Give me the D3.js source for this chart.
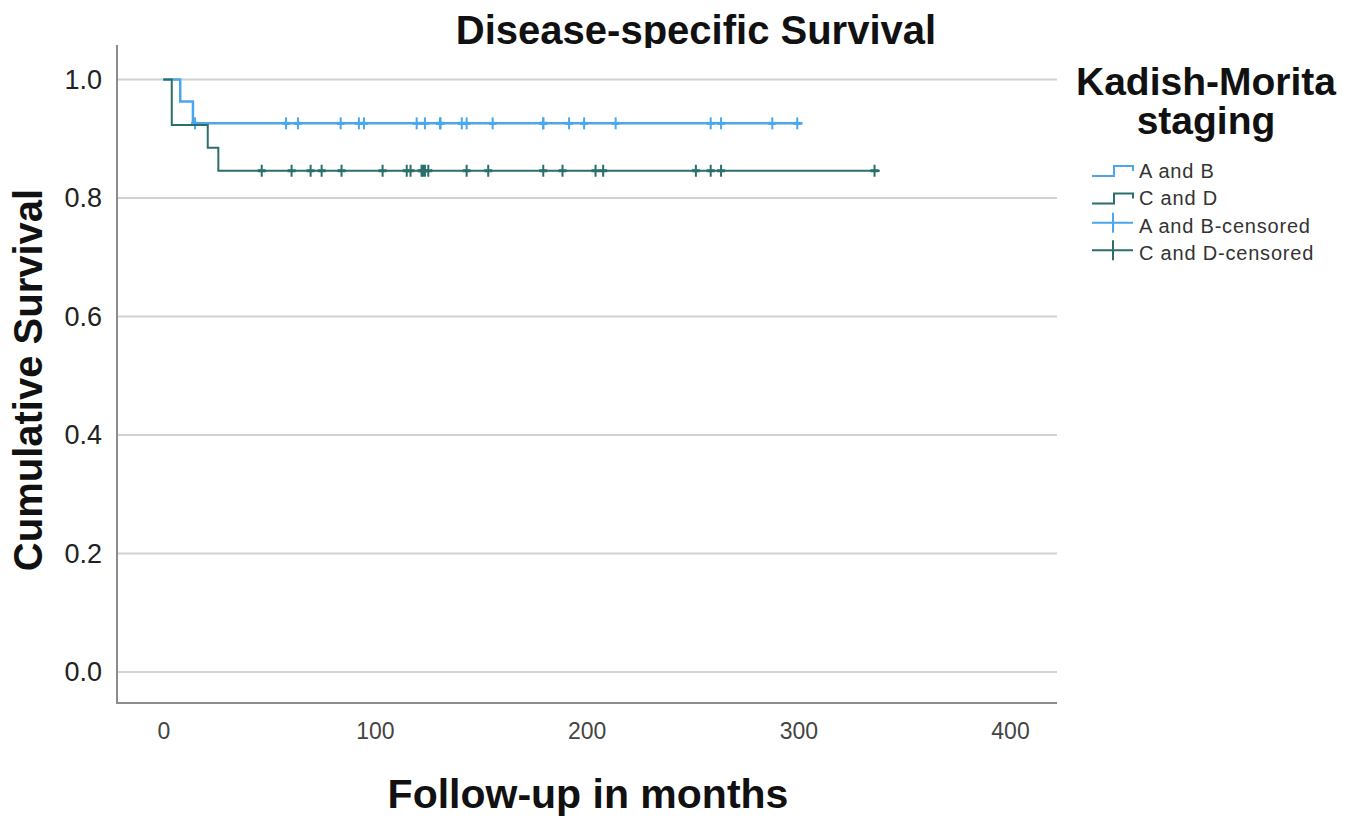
<!DOCTYPE html>
<html>
<head>
<meta charset="utf-8">
<script src="https://cdn.jsdelivr.net/npm/d3@7"></script>
<style>
  body { margin: 0; background: #fff; }
  text { font-family: "Liberation Sans", Arial, sans-serif; }
</style>
</head>
<body>
<div id="chart"></div>
<script>
const WIDTH = 1360;
const HEIGHT = 819;

// data
const xTicks = [0, 100, 200, 300, 400];
const yTicks = [0.0, 0.2, 0.4, 0.6, 0.8, 1.0];

const groups = ["A and B", "C and D"];
const abTimes = [0, 8, 14];
const abSurv = [1.0, 0.963, 0.926];
const abEnd = 302;
const abCensored = [15, 58, 63.6, 83.8, 92.4, 94.8, 119.7, 123.6, 130.7, 131, 141, 143.3,
                    155.6, 179.4, 179.6, 191.7, 198.8, 213.7, 258.6, 263.5, 287.7, 299.5];
const cdTimes = [0, 4, 21, 26];
const cdSurv = [1.0, 0.923, 0.885, 0.846];
const cdEnd = 338.5;
const cdCensored = [46.5, 60.6, 69.6, 74.8, 84.2, 103.6, 115, 116.8, 122, 122.7, 123.6, 125.2,
                    143.3, 153.5, 179.5, 188.6, 204.2, 207.8, 251.6, 258.6, 263.5, 336];

const COLORS = { "A and B": "#4aa7ec", "C and D": "#2a6f6b" };

const FRAME = { LEFT: 117, RIGHT: 1057, TOP: 45, BOTTOM: 703 };

var x = d3.scaleLinear([0, 400], [163.3, 1010]);
var y = d3.scaleLinear([0, 1], [672, 79.5]);

var svg = d3.select("div#chart").append("svg")
    .attr("width", WIDTH)
    .attr("height", HEIGHT);

// gridlines
svg.append("g").attr("class", "grid")
  .selectAll("line").data(yTicks).join("line")
    .attr("x1", FRAME.LEFT).attr("x2", FRAME.RIGHT)
    .attr("y1", d => y(d)).attr("y2", d => y(d))
    .attr("stroke", "#d2d2d2").attr("stroke-width", 2);

// axes frame lines
svg.append("line")
    .attr("x1", FRAME.LEFT).attr("x2", FRAME.LEFT)
    .attr("y1", FRAME.TOP).attr("y2", FRAME.BOTTOM + 1)
    .attr("stroke", "#8c8c8c").attr("stroke-width", 2);
svg.append("line")
    .attr("x1", FRAME.LEFT).attr("x2", FRAME.RIGHT)
    .attr("y1", FRAME.BOTTOM).attr("y2", FRAME.BOTTOM)
    .attr("stroke", "#8c8c8c").attr("stroke-width", 2);

// y tick labels via axis
svg.append("g")
    .attr("transform", `translate(${FRAME.LEFT},0)`)
    .call(d3.axisLeft(y).tickValues(yTicks).tickFormat(d3.format(".1f")).tickSize(0).tickPadding(15))
    .call(g => g.select(".domain").remove())
    .selectAll("text")
      .style("font-family", "Liberation Sans, Arial, sans-serif")
      .style("font-size", "27px")
      .attr("fill", "#222");

// x tick labels via axis
svg.append("g")
    .attr("transform", `translate(0,${FRAME.BOTTOM})`)
    .call(d3.axisBottom(x).tickValues(xTicks).tickFormat(d3.format("d")).tickSize(0).tickPadding(20))
    .call(g => g.select(".domain").remove())
    .selectAll("text")
      .style("font-family", "Liberation Sans Narrow, Arial Narrow, sans-serif")
      .style("font-size", "23px")
      .attr("fill", "#444");

// survival curves
const series = [
  { name: "A and B", times: abTimes, surv: abSurv, end: abEnd, censored: abCensored },
  { name: "C and D", times: cdTimes, surv: cdSurv, end: cdEnd, censored: cdCensored }
];

const survAt = (s, t) => {
  var v = s.surv[0];
  s.times.forEach((tt, i) => { if (tt <= t) v = s.surv[i]; });
  return v;
};

const stepLine = d3.line()
    .x(d => x(d[0]))
    .y(d => y(d[1]))
    .curve(d3.curveStepAfter);

var curves = svg.selectAll("g.curve").data(series).join("g")
    .attr("class", "curve")
    .attr("stroke", d => COLORS[d.name])
    .attr("fill", "none");

curves.append("path")
    .attr("stroke-width", d => d.name === "A and B" ? 2.5 : 2)
    .attr("d", d => {
      var pts = d.times.map((t, i) => [t, d.surv[i]]);
      pts.push([d.end, d.surv[d.surv.length - 1]]);
      return stepLine(pts);
    });

curves.selectAll("line.cens").data(d => d.censored.map(t => [t, survAt(d, t)])).join("line")
    .attr("class", "cens")
    .attr("stroke-width", 2)
    .attr("x1", d => x(d[0])).attr("x2", d => x(d[0]))
    .attr("y1", d => y(d[1]) - 6).attr("y2", d => y(d[1]) + 6);

curves.selectAll("line.arm").data(d => d.censored.map(t => [t, survAt(d, t)])).join("line")
    .attr("class", "arm")
    .attr("stroke-width", 3)
    .attr("x1", d => x(d[0]) - 4).attr("x2", d => x(d[0]) + 4)
    .attr("y1", d => y(d[1])).attr("y2", d => y(d[1]));

// title, its descenders cut by the top of the frame
svg.append("clipPath").attr("id", "titleclip")
  .append("rect").attr("x", 0).attr("y", 0).attr("width", WIDTH).attr("height", 48);
svg.append("text")
    .attr("clip-path", "url(#titleclip)")
    .attr("x", 696).attr("y", 44)
    .attr("text-anchor", "middle")
    .style("font-size", "40px").style("font-weight", "bold")
    .attr("fill", "#111")
    .text("Disease-specific Survival");

// axis titles
svg.append("text")
    .attr("transform", "translate(42,380) rotate(-90)")
    .attr("text-anchor", "middle")
    .style("font-size", "40px").style("font-weight", "bold")
    .attr("fill", "#111")
    .text("Cumulative Survival");

svg.append("text")
    .attr("x", 588).attr("y", 808)
    .attr("text-anchor", "middle")
    .style("font-size", "41px").style("font-weight", "bold")
    .attr("fill", "#111")
    .text("Follow-up in months");

// legend
var legend = svg.append("g").attr("class", "legend");
legend.append("text")
    .attr("x", 1206).attr("y", 95)
    .attr("text-anchor", "middle")
    .style("font-size", "39px").style("font-weight", "bold")
    .attr("fill", "#111")
    .text("Kadish-Morita");
legend.append("text")
    .attr("x", 1206).attr("y", 134)
    .attr("text-anchor", "middle")
    .style("font-size", "39px").style("font-weight", "bold")
    .attr("fill", "#111")
    .text("staging");

const legendItems = [
  { label: "A and B", group: "A and B", kind: "step" },
  { label: "C and D", group: "C and D", kind: "step" },
  { label: "A and B-censored", group: "A and B", kind: "cens" },
  { label: "C and D-censored", group: "C and D", kind: "cens" }
];

var rows = legend.selectAll("g.row").data(legendItems).join("g")
    .attr("class", "row")
    .attr("transform", (d, i) => `translate(1092,${178 + i * 27.4})`);

rows.filter(d => d.kind === "step").append("path")
    .attr("fill", "none").attr("stroke", d => COLORS[d.group]).attr("stroke-width", 2)
    .attr("d", "M0,-2H22V-12H41V-7");
rows.filter(d => d.kind === "cens").append("path")
    .attr("fill", "none").attr("stroke", d => COLORS[d.group]).attr("stroke-width", 2)
    .attr("d", "M0,-10H41M21,-20V0");

rows.append("text")
    .attr("x", 47).attr("y", 0)
    .style("font-size", "20px").style("letter-spacing", "0.8px")
    .attr("fill", "#333")
    .text(d => d.label);
</script>
</body>
</html>
